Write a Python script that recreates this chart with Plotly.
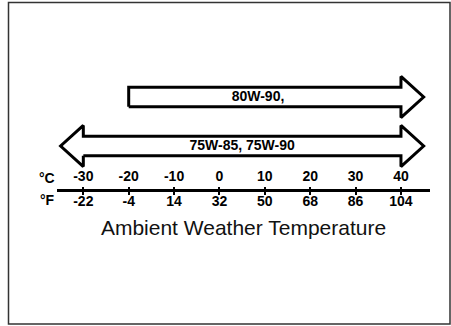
import plotly.graph_objects as go

# temperature scale
celsius_ticks = [-30, -20, -10, 0, 10, 20, 30, 40]
fahrenheit_labels = ["-22", "-4", "14", "32", "50", "68", "86", "104"]

# lubricant ranges (deg C)
oil_names = ["80W-90,", "75W-85, 75W-90"]
oil_min_c = [-20, -30]
oil_max_c = [40, 40]
oil_open_low = [False, True]
oil_open_high = [True, True]

HEAD_LEN = 5.0      # deg C
HEAD_HALF = 0.42    # row units
SHAFT_HALF = 0.2

FONT = "Arial, Liberation Sans, sans-serif"
BOLD = dict(family=FONT, size=14, color="black", weight="bold")

W, H = 451, 326
ML, MR = 57, 21


def arrow_shape(x0, x1, y, open_low, open_high):
    if open_low:
        pts = [(x0, y + SHAFT_HALF), (x0, y + HEAD_HALF), (x0 - HEAD_LEN, y),
               (x0, y - HEAD_HALF), (x0, y - SHAFT_HALF)]
    else:
        pts = [(x0, y + SHAFT_HALF), (x0, y - SHAFT_HALF)]
    if open_high:
        pts += [(x1, y - SHAFT_HALF), (x1, y - HEAD_HALF), (x1 + HEAD_LEN, y),
                (x1, y + HEAD_HALF), (x1, y + SHAFT_HALF)]
    else:
        pts += [(x1, y - SHAFT_HALF), (x1, y + SHAFT_HALF)]
    pts.append(pts[0])
    return [p[0] for p in pts], [p[1] for p in pts]


def paper_x(px):
    return (px - ML) / (W - ML - MR)


fig = go.Figure()

for row, name in enumerate(oil_names):
    xs, ys = arrow_shape(oil_min_c[row], oil_max_c[row], row,
                         oil_open_low[row], oil_open_high[row])
    fig.add_trace(go.Scatter(
        x=xs, y=ys, mode="lines", fill="toself", fillcolor="white",
        line=dict(color="black", width=3), hoverinfo="skip", showlegend=False
    ))
    fig.add_trace(go.Scatter(
        x=[(oil_min_c[row] + oil_max_c[row]) / 2 - 1.5 * (not oil_open_low[row])], y=[row],
        mode="text", text=[name], textfont=BOLD, hoverinfo="skip", showlegend=False
    ))

# dummy trace to activate the top axis
fig.add_trace(go.Scatter(x=[None], y=[None], xaxis="x2", showlegend=False))

x_range = [-35.8, 46.4]
axis_pos = 1 - 190 / H
row_px = 49
first_row_px = 97

fig.update_layout(
    width=W, height=H,
    margin=dict(l=ML, r=MR, t=0, b=0),
    paper_bgcolor="white", plot_bgcolor="white",
    xaxis=dict(
        range=x_range, anchor="free", position=axis_pos, side="bottom",
        tickmode="array", tickvals=celsius_ticks, ticktext=fahrenheit_labels,
        tickfont=BOLD, showline=True, linecolor="black", linewidth=3,
        ticks="outside", ticklen=3, tickwidth=2, tickcolor="black",
        ticklabelstandoff=-6,
        showgrid=False, zeroline=False,
        title=dict(text="Ambient Weather Temperature", standoff=12,
                   font=dict(family=FONT, size=21, color="#111")),
    ),
    xaxis2=dict(
        range=x_range, overlaying="x", matches="x", anchor="free", position=axis_pos,
        side="top", tickmode="array", tickvals=celsius_ticks,
        ticktext=[str(c) for c in celsius_ticks], tickfont=BOLD,
        showline=False, ticks="outside", ticklen=3, tickwidth=2, tickcolor="black",
        showgrid=False, zeroline=False,
    ),
    yaxis=dict(range=[(H - first_row_px) / row_px, -first_row_px / row_px],
               visible=False, domain=[0, 1]),
    annotations=[
        dict(x=paper_x(47), y=1 - 178 / H, xref="paper", yref="paper", text="°C",
             showarrow=False, font=BOLD, xanchor="center", yanchor="middle"),
        dict(x=paper_x(47), y=1 - 200 / H, xref="paper", yref="paper", text="°F",
             showarrow=False, font=BOLD, xanchor="center", yanchor="middle"),
    ],
    shapes=[dict(type="rect", xref="paper", yref="paper",
                 x0=paper_x(8.5), x1=paper_x(450), y0=1 - 324 / H, y1=1 - 2.5 / H,
                 line=dict(color="#333", width=1.5))],
)

fig.write_html("out.html", config={"displayModeBar": False},
               post_script="document.body.style.margin='0';")
